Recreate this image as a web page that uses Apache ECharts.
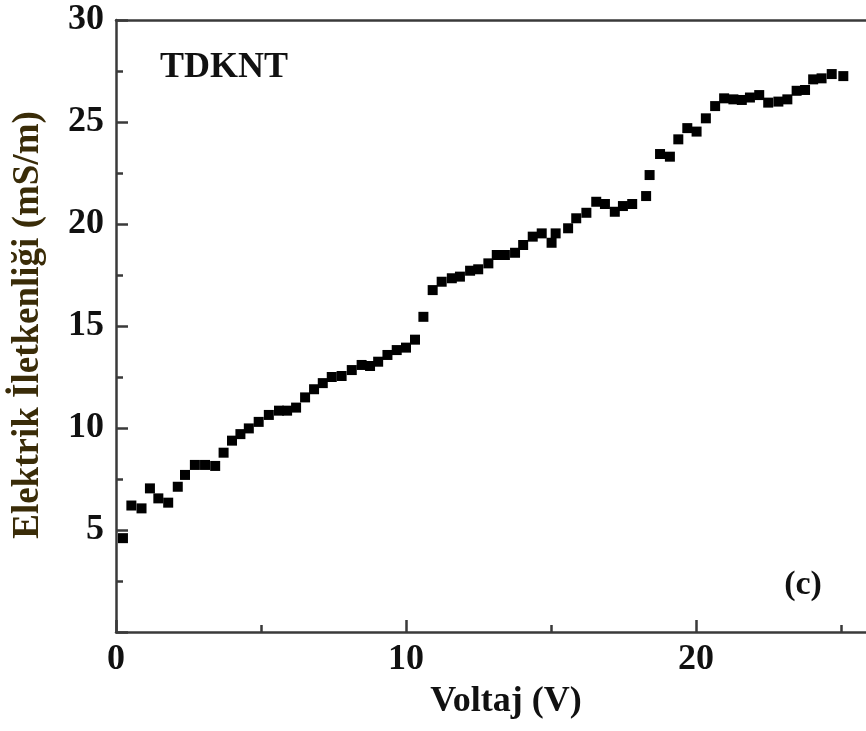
<!DOCTYPE html>
<html>
<head>
<meta charset="utf-8">
<script src="https://cdn.jsdelivr.net/npm/echarts@6/dist/echarts.min.js"></script>
<style>
  html, body { margin: 0; padding: 0; background: #fff; }
  #chart { width: 866px; height: 731px; }
</style>
</head>
<body>
<div id="chart"></div>
<script>
// voltaj (V)
const voltage = [
  0.24, 0.53, 0.88, 1.17, 1.46, 1.80, 2.13, 2.38, 2.72, 3.07,
  3.42, 3.71, 4.00, 4.29, 4.58, 4.92, 5.27, 5.62, 5.90, 6.21,
  6.52, 6.83, 7.13, 7.44, 7.78, 8.13, 8.47, 8.76, 9.04, 9.36,
  9.68, 10.00, 10.31, 10.60, 10.92, 11.23, 11.58, 11.86, 12.21, 12.49,
  12.84, 13.13, 13.41, 13.76, 14.04, 14.37, 14.68, 15.02, 15.16, 15.59,
  15.87, 16.22, 16.56, 16.86, 17.20, 17.48, 17.80, 18.28, 18.40, 18.76,
  19.10, 19.39, 19.70, 20.02, 20.34, 20.66, 20.97, 21.29, 21.58, 21.86,
  22.18, 22.49, 22.84, 23.15, 23.47, 23.76, 24.04, 24.33, 24.68, 25.08
]
// elektrik iletkenligi (mS/m)
const conductivity = [
  4.6, 6.2, 6.06, 7.04, 6.55, 6.34, 7.12, 7.7, 8.19, 8.19,
  8.14, 8.79, 9.38, 9.7, 9.98, 10.3, 10.64, 10.85, 10.85, 11.0,
  11.5, 11.9, 12.2, 12.5, 12.55, 12.84, 13.09, 13.04, 13.25, 13.58,
  13.82, 13.94, 14.33, 15.45, 16.76, 17.17, 17.34, 17.42, 17.71, 17.78,
  18.07, 18.48, 18.48, 18.59, 18.97, 19.38, 19.54, 19.08, 19.54, 19.79,
  20.28, 20.55, 21.09, 20.98, 20.6, 20.88, 20.98, 21.37, 22.4, 23.43,
  23.3, 24.15, 24.7, 24.53, 25.18, 25.78, 26.16, 26.11, 26.08, 26.2,
  26.32, 25.95, 26.0, 26.11, 26.53, 26.57, 27.09, 27.14, 27.35, 27.25
]
const xTicks = [0, 30, 10]   // min, max, interval
const yTicks = [0, 30, 5]

const font = "'Liberation Serif', 'Times New Roman', serif"
const axisColor = '#3a3a3a'

const chart = echarts.init(document.getElementById('chart'), null, { renderer: 'canvas' })

let option = {
  backgroundColor: '#fff',
  animation: false,
  grid: {
    left: 116,
    top: 20,
    width: 870,
    height: 612,
    outerBoundsMode: 'none',
    containLabel: false
  },
  xAxis: [
    {
      type: 'value',
      min: xTicks[0],
      max: xTicks[1],
      interval: xTicks[2],
      axisLine: { lineStyle: { color: axisColor, width: 2.5 } },
      axisTick: { inside: true, length: 12, lineStyle: { color: axisColor, width: 2.5 } },
      minorTick: { show: true, splitNumber: 2, length: 7, lineStyle: { color: axisColor, width: 2.5 } },
      splitLine: { show: false },
      axisLabel: {
        margin: 10,
        color: '#111',
        fontFamily: font,
        fontWeight: 'bold',
        fontSize: 36
      }
    },
    {
      type: 'value',
      position: 'top',
      min: xTicks[0],
      max: xTicks[1],
      axisLine: { show: true, onZero: false, lineStyle: { color: axisColor, width: 2.5 } },
      axisTick: { show: false },
      axisLabel: { show: false },
      splitLine: { show: false }
    }
  ],
  yAxis: {
    type: 'value',
    min: yTicks[0],
    max: yTicks[1],
    interval: yTicks[2],
    axisLine: { show: true, lineStyle: { color: axisColor, width: 2.5 } },
    axisTick: { inside: true, length: 12, lineStyle: { color: axisColor, width: 2.5 } },
    minorTick: { show: true, splitNumber: 2, length: 7, lineStyle: { color: axisColor, width: 2.5 } },
    splitLine: { show: false },
    axisLabel: {
      margin: 12,
      color: '#111',
      fontFamily: font,
      fontWeight: 'bold',
      fontSize: 36,
      formatter: function (v) {
        return v === 0 ? '' : v
      }
    }
  },
  graphic: [
    {
      type: 'text',
      left: 160,
      top: 50,
      style: { text: 'TDKNT', fill: '#111', font: 'bold 36px ' + font }
    },
    {
      type: 'text',
      x: 803,
      y: 585,
      style: { text: '(c)', fill: '#111', font: 'bold 34px ' + font, textAlign: 'center', textVerticalAlign: 'middle' }
    },
    {
      type: 'text',
      x: 506,
      y: 702,
      style: { text: 'Voltaj (V)', fill: '#111', font: 'bold 36px ' + font, textAlign: 'center', textVerticalAlign: 'middle' }
    },
    {
      type: 'text',
      x: 28,
      y: 325,
      rotation: Math.PI / 2,
      style: { text: 'Elektrik İletkenliği (mS/m)', fill: '#3a2c08', font: 'bold 37px ' + font, textAlign: 'center', textVerticalAlign: 'middle' }
    }
  ],
  series: [
    {
      type: 'scatter',
      symbol: 'rect',
      symbolSize: 10,
      itemStyle: { color: '#000', opacity: 1 },
      data: voltage.map((v, i) => [v, conductivity[i]])
    }
  ]
}

chart.setOption(option)
</script>
</body>
</html>
